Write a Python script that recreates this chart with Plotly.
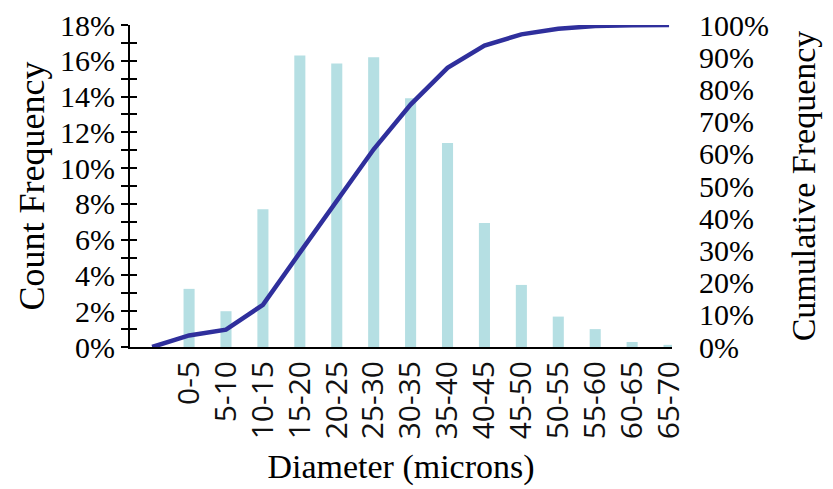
import plotly.graph_objects as go

categories = ["0-5", "5-10", "10-15", "15-20", "20-25", "25-30", "30-35",
              "35-40", "40-45", "45-50", "50-55", "55-60", "60-65", "65-70"]
count_freq = [3.25, 2.0, 7.7, 16.3, 15.85, 16.2, 13.9, 11.4, 6.93, 3.47, 1.7, 1.0, 0.28, 0.12]
cum_freq = [0, 3.6, 5.4, 13.1, 29.3, 45.2, 61.4, 75.3, 86.7, 93.6, 97.1, 98.8, 99.7, 99.95, 100]

pos = list(range(len(categories)))
line_pos = [-1] + pos

serif = "Liberation Serif"
fig = go.Figure()
fig.add_trace(go.Bar(x=pos, y=count_freq, width=0.3, marker=dict(color="#b5dfe3", line=dict(width=0)),
                     yaxis="y", showlegend=False))
fig.add_trace(go.Scatter(x=line_pos, y=cum_freq, mode="lines", line=dict(color="#2f2f9c", width=4.5),
                         yaxis="y2", showlegend=False))
fig.add_trace(go.Scatter(x=[None], y=[None], yaxis="y3", showlegend=False, hoverinfo="skip"))

fig.update_layout(
    width=833, height=489,
    margin=dict(l=122, r=169, t=17, b=150),
    plot_bgcolor="white", paper_bgcolor="white",
    xaxis=dict(range=[-1.6, 13.08], tickmode="array", tickvals=pos, ticktext=categories,
               tickangle=-90, tickfont=dict(family="Open Sans", size=30, color="#111"),
               showline=True, linecolor="black", linewidth=2, showgrid=False, zeroline=False,
               ticks="", automargin=False,
               title=dict(text="Diameter (microns)", font=dict(family=serif, size=34, color="black"),
                          standoff=16)),
    yaxis=dict(range=[0, 18], dtick=2, ticksuffix="%", showline=True, linecolor="black", linewidth=2,
               ticks="outside", ticklen=7, tickwidth=2, tickcolor="black",
               minor=dict(dtick=1, ticks="outside", ticklen=7, tickwidth=2, tickcolor="black"),
               showgrid=False, zeroline=False, automargin=False, ticklabeloverflow="allow",
               tickfont=dict(family=serif, size=30, color="black"),
               title=dict(text="Count Frequency", font=dict(family=serif, size=36, color="black"), standoff=4)),
    yaxis3=dict(range=[0, 18], dtick=1, overlaying="y", side="left", showticklabels=False,
                ticks="inside", ticklen=7, tickwidth=2, tickcolor="black", showgrid=False, zeroline=False,
                showline=False, automargin=False),
    yaxis2=dict(range=[0, 100], dtick=10, ticksuffix="%", overlaying="y", side="right",
                showline=False, ticks="", showgrid=False, zeroline=False, ticklabelstandoff=26,
                automargin=False, ticklabeloverflow="allow",
                tickfont=dict(family=serif, size=30, color="black"),
                title=dict(text="Cumulative Frequency", font=dict(family=serif, size=34, color="black"),
                           standoff=23)),
)

fig.write_html("out.html")
